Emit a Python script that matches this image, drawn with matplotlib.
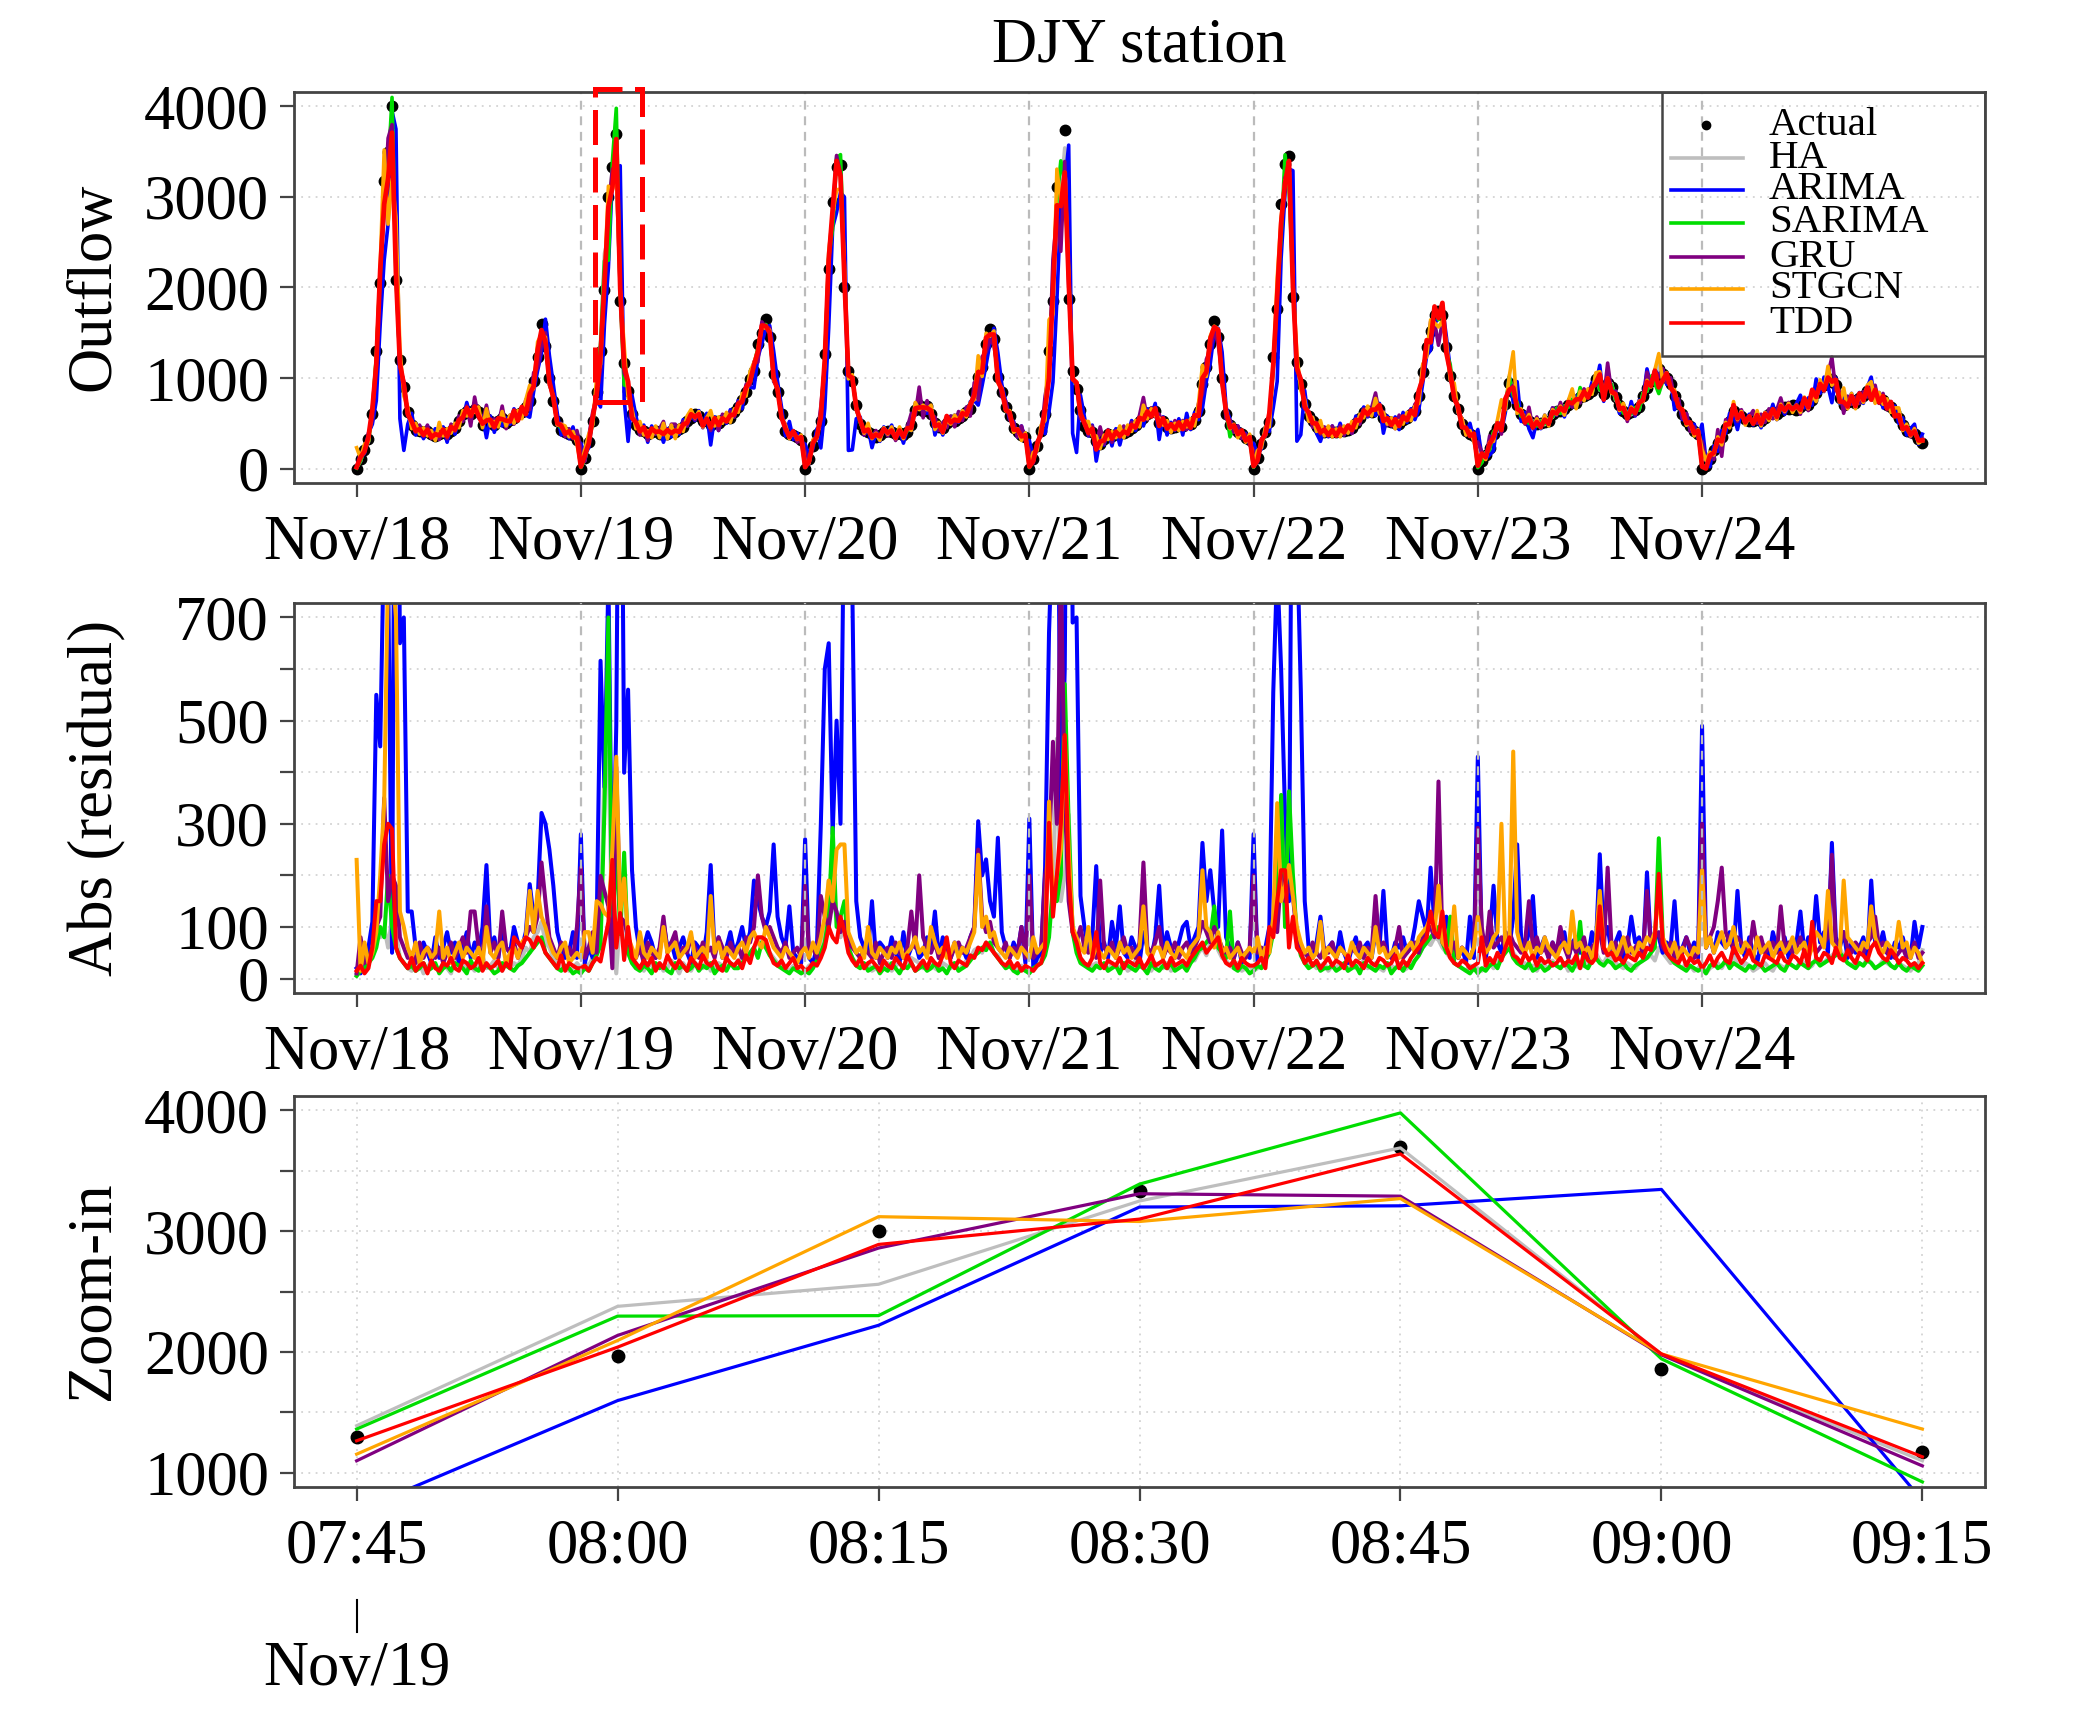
import numpy as np
import matplotlib
matplotlib.use('Agg')
import matplotlib.pyplot as plt
from matplotlib.patches import Rectangle
from matplotlib.lines import Line2D
from matplotlib.transforms import blended_transform_factory

plt.rcParams['font.family'] = ['Liberation Serif', 'DejaVu Serif']

# ---------------- data ----------------
day_labels = ['Nov/18', 'Nov/19', 'Nov/20', 'Nov/21', 'Nov/22', 'Nov/23', 'Nov/24']
slots_per_day = 57          # 15-min slots, 06:30 .. 20:30
zoom_labels = ['07:45', '08:00', '08:15', '08:30', '08:45', '09:00', '09:15']
zoom_day = 1                # Nov/19
zoom_first = 5              # slot of 07:45

actual_nov18 = [0, 100, 200, 330, 600, 1300, 2050, 3180, 3500, 4000,
                2080, 1200, 900, 620, 480, 430, 410, 400, 420, 380,
                360, 380, 400, 380, 420, 450, 520, 600, 640, 600,
                660, 620, 480, 560, 520, 480, 520, 560, 500, 540,
                560, 600, 620, 680, 750, 970, 1230, 1600, 1350, 1000,
                750, 520, 430, 400, 380, 370, 320]
actual_nov19 = [0, 120, 290, 530, 850, 1296, 1967, 3000, 3330, 3700,
                1856, 1166, 860, 600, 480, 430, 420, 380, 400, 420,
                380, 400, 380, 420, 400, 440, 460, 520, 560, 600,
                580, 520, 520, 480, 520, 500, 540, 560, 560, 620,
                680, 760, 850, 990, 1080, 1375, 1500, 1650, 1450, 1040,
                840, 600, 420, 380, 370, 350, 320]
actual_nov20 = [0, 100, 250, 380, 527, 1264, 2204, 2942, 3329, 3348,
                2000, 1080, 966, 700, 490, 430, 400, 380, 350, 370,
                400, 420, 400, 380, 390, 370, 400, 480, 650, 700,
                640, 690, 600, 500, 460, 450, 500, 540, 520, 560,
                580, 620, 660, 850, 1006, 1117, 1375, 1541, 1430, 1006,
                840, 675, 580, 450, 400, 370, 343]
actual_nov21 = [0, 100, 250, 420, 600, 1300, 1854, 3108, 3200, 3742,
                1873, 1080, 877, 650, 470, 420, 400, 300, 270, 330,
                380, 360, 380, 400, 390, 420, 450, 480, 520, 560,
                600, 620, 640, 500, 520, 460, 450, 460, 480, 470,
                500, 490, 540, 640, 930, 1117, 1375, 1633, 1450, 1000,
                600, 480, 440, 400, 380, 340, 320]
actual_nov22 = [0, 120, 270, 400, 510, 1227, 1762, 2923, 3366, 3458,
                1891, 1172, 933, 711, 580, 527, 460, 420, 400, 410,
                400, 398, 410, 420, 430, 450, 500, 560, 620, 640,
                620, 675, 660, 560, 530, 510, 500, 490, 540, 560,
                600, 640, 800, 1062, 1338, 1523, 1700, 1744, 1700, 1338,
                1025, 804, 656, 490, 420, 380, 361]
actual_nov23 = [0, 85, 150, 230, 380, 450, 460, 711, 950, 850,
                700, 600, 560, 527, 500, 490, 500, 510, 530, 600,
                640, 630, 660, 700, 750, 720, 785, 800, 820, 860,
                988, 900, 822, 950, 900, 785, 700, 640, 600, 620,
                650, 675, 800, 895, 970, 1000, 1100, 1043, 1000, 933,
                800, 711, 600, 527, 470, 420, 380]
actual_nov24 = [0, 30, 100, 200, 280, 350, 450, 520, 640, 600,
                580, 550, 520, 530, 560, 520, 560, 600, 620, 600,
                640, 680, 660, 700, 650, 680, 720, 700, 760, 830,
                900, 920, 960, 990, 920, 780, 700, 740, 760, 720,
                780, 800, 860, 820, 800, 780, 760, 700, 680, 620,
                560, 480, 420, 400, 380, 330, 280]

# prediction - actual, 57 values per day
res_ha = [
    10, -20, 30, -40, 60, -90, 80, -100, 60, -120, 90, -40, 30, -20, 15, -25, 30, -10, 20, -35,
    25, -15, 30, -20, 10, -40, 35, -30, 20, -25, 15, -30, 45, -20, 25, -35, 20, -15, 40, -20,
    30, -25, 40, -60, 50, -80, 90, -110, 70, -60, 40, -30, 20, -25, 15, -20, 30,
    20, -30, 25, -40, 60, 92, 410, -440, -80, -10, 124, -69, 50, -30, 20, -25, 15, -30, 25, -20,
    30, -15, 20, -35, 25, -10, 30, -20, 15, -30, 25, -20, 35, -15, 20, -30, 25, -20, 30, -25,
    35, -40, 45, -50, 60, -70, 80, -60, 50, -40, 30, -25, 20, -15, 25, -20, 10,
    15, -25, 30, -35, 50, -90, 190, -150, 120, -80, 100, -60, 40, -30, 25, -20, 30, -15, 20, -25,
    20, -30, 15, -25, 30, -20, 25, -40, 35, -30, 20, -25, 30, -20, 15, -30, 25, -20, 30, -15,
    25, -35, 40, -55, 60, -50, 70, -60, 50, -45, 30, -20, 25, -15, 20, -25, 15,
    20, -15, 30, -40, 55, -100, 160, -465, -150, -200, 318, -90, 60, -40, 30, -20, 25, -30, 20, -25,
    15, -30, 25, -20, 30, -15, 20, -35, 30, -25, 20, -15, 30, -25, 20, -30, 15, -20, 25, -30,
    30, -40, 35, -50, 60, -45, 70, -80, 55, -40, 35, -25, 20, -30, 15, -20, 25,
    15, -20, 25, -35, 60, -110, 180, -300, -280, -150, 200, -70, 50, -35, 25, -30, 20, -25, 30, -15,
    25, -20, 30, -25, 15, -30, 20, -25, 35, -20, 25, -30, 20, -15, 30, -25, 20, -30, 15, -20,
    30, -35, 45, -60, 70, -65, 80, -75, 60, -50, 40, -30, 25, -20, 15, -25, 20,
    20, -15, 25, -30, 20, -40, 35, -60, 80, -50, 40, -25, 30, -20, 25, -15, 30, -25, 20, -35,
    25, -20, 30, -15, 35, -25, 20, -30, 25, -40, 50, -35, 30, -45, 40, -30, 25, -20, 30, -25,
    20, -30, 35, -40, 45, -35, 60, -50, 40, -30, 35, -25, 20, -30, 25, -15, 20,
    30, -10, 20, -25, 30, -20, 35, -30, 45, -25, 20, -30, 25, -15, 20, -25, 30, -20, 15, -30,
    25, -20, 30, -25, 20, -35, 30, -20, 25, -40, 35, -30, 40, -45, 50, -60, 40, -30, 25, -35,
    30, -25, 40, -30, 20, -25, 35, -30, 25, -20, 30, -25, 20, -15, 25, -30, 55]
res_arima = [
    20, 10, -30, 60, -110, -550, -450, -880, -800, -50, 1670, -650, -700, -130, 130, -60, 40, -70, 50, -30,
    80, -40, 60, -90, 50, -70, 30, -60, 90, -40, 70, -50, 100, -220, 60, -80, 40, -90, 60, -50,
    100, -70, 60, -90, -183, -120, -150, -321, 300, 250, 180, 90, -60, 40, -50, 90, -40,
    280, 30, -60, 40, -90, -616, -371, -780, -130, -490, 1490, -399, -560, 210, 100, -50, 60, -90, 70, -40,
    50, -110, 60, -70, 40, -60, 80, -50, 30, -70, 60, -40, 90, -220, 50, -80, 40, -60, 90, -50,
    70, -100, 60, -90, -190, -150, -120, -100, 130, 260, 120, 80, -60, 140, -50, 40, -30,
    270, 40, -30, 60, -300, -600, -650, -280, -500, -300, 1000, -880, -760, -150, 80, -60, 50, -150, 40, -70,
    60, -40, 80, -50, 30, -90, 40, -60, 70, -40, 50, -80, 60, -130, 40, -80, 60, -40, 70, -50,
    60, -40, 80, -100, -305, -200, -231, -150, 120, 273, 90, 60, -40, 70, -50, 100, -30,
    310, 20, -40, 50, -215, -670, -900, -1250, -300, -600, 1700, -690, -700, 160, 100, -60, 80, -218, 50, -70,
    40, -110, 60, -140, 50, -40, 80, -60, 30, -90, 60, -40, 80, -180, 50, -90, 60, -40, 70, -100,
    110, -60, 80, -100, -263, -150, -210, -130, 100, 287, 80, 60, -40, 70, -30, 50, -40,
    280, 30, -50, 60, -100, -555, -800, -600, -318, -150, 1400, -870, -560, 150, -60, 40, -70, -120, 50, -60,
    70, -40, 90, -50, 30, -60, 80, -40, 60, -70, 40, -90, 60, -170, 50, -40, 70, -60, 80, -50,
    60, -100, -150, -120, -90, -215, -100, -80, 90, 120, 70, 50, -40, 60, -30, 120, -40,
    430, 60, -40, -80, -180, 70, -50, -90, 60, -120, 260, -80, 60, -90, -160, 40, -60, 80, -40, 70,
    -50, 60, -90, 40, -70, 80, -50, 60, -40, 90, -60, 241, -80, 100, -50, 70, -90, 40, -60, 120,
    -70, 80, -40, 206, -60, 90, -80, 50, -70, 60, -150, 40, -60, 80, -50, 70, -40,
    490, 60, -80, 50, -90, 70, -60, 90, -50, -170, 60, -40, 80, -50, 30, -70, 60, -40, 90, -60,
    50, -80, 40, -60, 70, 130, -50, 80, -60, 160, -70, 90, -50, -263, 80, -60, 90, -40, 70, -50,
    60, -80, 40, 190, -70, 60, -90, 50, -40, 70, -60, 80, -50, 40, 110, -60, 100]
res_sarima = [
    5, -15, 20, -30, 40, -60, 100, -80, -200, 100, 60, -40, 30, -20, 25, -15, 20, -30, 15, -20,
    30, -10, 20, -25, 15, -30, 25, -20, 10, -35, 20, -15, 30, -25, 20, -10, 15, -30, 25, -20,
    15, -25, 30, -40, 50, -60, 70, -80, 50, -40, 30, -20, 15, -25, 20, -10, 15,
    10, -20, 15, -30, 45, 64, 329, -700, 60, 280, 86, -244, 50, -30, 20, -15, 25, -20, 10, -30,
    20, -25, 15, -10, 30, -20, 25, -15, 20, -30, 15, -25, 20, -30, 10, -20, 25, -15, 30, -20,
    20, -30, 40, -50, 60, -40, 70, -60, 45, -35, 25, -20, 15, -10, 20, -15, 10,
    15, -10, 20, -35, 50, -70, 120, -292, 100, 120, 150, -60, 40, -25, 20, -30, 15, -20, 25, -10,
    20, -15, 30, -20, 10, -25, 20, -30, 15, -20, 25, -15, 20, -30, 15, -20, 10, -25, 30, -15,
    20, -25, 35, -45, 50, -60, 55, -70, 50, -40, 30, -20, 25, -15, 10, -20, 15,
    10, -20, 25, -30, 45, -80, 180, -150, 200, -571, 300, -90, 50, -30, 25, -20, 15, -25, 20, -30,
    15, -20, 25, -10, 30, -25, 20, -15, 25, -20, 10, -30, 20, -15, 25, -20, 30, -15, 20, -25,
    15, -30, 40, -55, 60, -70, 80, -140, 60, -50, 40, -130, 20, -15, 25, -20, 10,
    15, -25, 20, -35, 50, -90, 150, -356, 100, -363, 200, -80, 45, -30, 20, -25, 30, -15, 20, -20,
    25, -15, 20, -30, 15, -20, 25, -10, 30, -25, 20, -15, 25, -20, 30, -10, 20, -25, 15, -30,
    20, -35, 45, -60, 70, -80, 90, -100, 70, -50, 120, -30, 25, -20, 15, -10, 20,
    10, -20, 15, -25, 30, -20, 40, -50, 60, -40, 30, -25, 20, -30, 15, -20, 25, -15, 20, -30,
    25, -20, 30, -25, 15, -30, 110, -25, 20, -35, 40, -30, 25, -35, 30, -20, 25, -30, 20, -15,
    25, -30, 35, -40, 50, -60, -272, -80, 50, -40, 30, -25, 20, -15, 25, -20, 15,
    20, -10, 25, -30, 20, -25, 35, -20, 30, -25, 20, -15, 25, -20, 30, -25, 15, -20, 25, -30,
    20, -15, 30, -25, 20, -30, 25, -20, 30, -35, 25, -30, 35, -40, 45, -50, 40, -30, 25, -20,
    30, -25, 35, -30, 20, -25, 30, -35, 25, -20, 30, -20, 15, -25, 20, -15, 25]
res_gru = [
    10, 80, -30, 40, -60, -100, 120, -350, 150, -200, 180, -80, 60, -40, 50, -30, 70, -40, 60, -50,
    40, -60, 30, -50, 70, -40, 60, -80, 50, -130, 130, -60, 40, 140, -50, 70, -40, 130, -60, 50,
    -70, 40, -60, 80, -100, 90, -120, -225, 150, -80, 60, -40, 70, -50, 60, -40, 100,
    215, -40, 60, 90, -50, -199, 169, -140, -20, -410, 119, -111, 80, -50, 40, -60, 30, -70, 50, -40,
    60, 120, -50, 70, 90, -40, 60, -50, 80, -60, 40, -70, 50, -60, 40, -80, 60, -40, 70, -50,
    60, -40, 80, -70, 100, -200, 120, -90, 100, -80, 60, -50, 70, -40, 50, -60, 40,
    180, -50, 60, -40, 160, -120, 100, -150, 130, -90, 110, -70, 60, -50, 40, -60, 50, -40, 70, -30,
    50, -60, 40, -70, 50, -40, 60, 130, -60, 200, -80, 60, -50, 70, -40, 60, -50, 40, -60, 70,
    -50, 60, -80, 100, -250, 120, -90, -110, -70, 60, -50, 70, -40, 60, -50, 100, -40,
    200, -40, 50, -60, 200, -240, 459, -300, -800, -350, 150, -90, 70, -100, 60, -50, 70, -40, 190, -60,
    50, -70, 40, -60, 80, -50, 60, -40, 70, 225, -60, 50, -70, 100, -40, 60, -50, 70, -40, 60,
    -70, 50, -60, 80, -110, 90, -70, -100, -80, 60, -50, 60, -40, 70, -50, 40, -60,
    200, -50, 60, -40, 70, -110, 90, -200, -150, -180, 160, -80, 60, -50, 40, -70, 50, -40, 60, -50,
    70, -40, 60, -50, 40, -60, 50, -70, 40, -60, 50, 160, -60, 70, -50, 40, -60, 100, -40, 50,
    -60, 70, -50, 80, -90, 100, -80, -382, -70, 60, -50, 70, -40, 60, -50, 40, -60,
    292, 100, -50, 130, -60, 70, -80, 60, -90, 70, -60, 50, -70, 150, -60, 80, -50, 60, -40, 70,
    -50, 100, -60, 40, -70, 50, -60, 80, -40, 60, -70, 90, -50, 215, -60, 70, -40, 60, -80, 50,
    -60, 70, -50, 170, -60, 80, -90, 60, -50, 70, -40, 60, -50, 80, -60, 40, -50,
    300, 60, 80, -100, 150, -215, 90, -70, 60, -80, 70, -60, 50, 110, -60, 80, -50, 60, -70, 50,
    140, -60, 70, -50, 60, -80, 50, -60, 70, -50, 60, -70, 80, 240, -60, 70, -90, 60, -50, 70,
    -60, 50, -70, 80, 120, -60, 70, -50, 60, -40, 50, -60, 40, -50, 70, -40, 50]
res_stgcn = [
    230, 15, 70, -30, 50, -90, 200, 340, -800, -800, 700, 130, -100, 60, -40, 70, -30, 50, -60, 40,
    -50, 130, -40, 60, -30, 50, -70, 40, -60, 50, -40, 60, -30, 100, -50, 40, -60, 70, -30, 50,
    -60, 40, -70, 80, 170, -90, 170, -120, 100, -70, 50, -40, 60, 70, -30, 40, -50,
    40, 90, 90, -50, 150, -144, 127, 120, -250, -430, 127, 194, -80, 60, -40, 90, -50, 40, -60, 50,
    -40, 100, -50, 60, -70, 40, -50, 60, 90, -40, 50, -60, 40, 160, -50, 70, -40, 60, -50, 40,
    -60, 70, -50, 80, 90, -70, 60, -100, 80, -60, 50, -40, 60, -50, 40, -30, 50,
    60, -40, 70, -50, 80, -120, 190, -150, -250, -260, 260, -90, 70, -50, 60, -40, 100, -50, 40, -60,
    50, -40, 60, -50, 70, -40, 50, -60, 80, -50, 60, -40, 100, -70, 50, -60, 40, -50, 70, -40,
    60, -50, 70, -90, 240, -100, 120, -80, 90, -60, 50, -40, 60, -50, 40, -60, 50,
    40, 80, -50, 60, -70, 343, -150, 200, -250, -470, 250, -100, 80, -60, 50, 100, -40, 60, -50, 40,
    -60, 50, -40, 70, -50, 60, -40, 50, -60, 140, -50, 40, -60, 60, -40, 70, -50, 40, -60, 50,
    -40, 60, -70, 80, 210, -100, 90, -60, 90, -50, 60, -40, 50, -60, 40, -50, 60,
    50, 80, -40, 60, -50, -120, 340, -150, -180, -220, 160, 100, -70, 50, -60, 40, -50, 110, -40, 60,
    -50, 40, -60, 50, -40, 70, -50, 40, -60, 50, -40, 100, -50, 60, -40, 50, -60, 40, -50, 60,
    -70, 50, -80, 90, -100, 120, -90, -180, -70, 60, -50, 140, -40, 60, -50, 40, -60,
    120, 70, -50, 60, -80, 90, 300, -60, 70, 440, -90, 60, -50, 70, -40, 60, -50, 80, -60, 50,
    -40, 60, -70, 50, 130, -60, 70, -50, 60, -40, 70, 170, -60, 50, -70, 40, -60, 80, -50, 60,
    -40, 70, -60, 80, -70, 90, 170, -80, 60, -50, 70, -40, 60, -50, 40, -60, 50,
    210, 60, 80, -50, 70, -90, 60, -70, 100, -60, 50, -70, 60, -40, 80, -50, 60, -70, 40, -60,
    70, -50, 60, -80, 50, -60, 70, -40, 60, -90, 80, -60, 170, -70, 60, -50, 190, -80, 70, -60,
    50, -70, 60, 140, -80, 60, -50, 70, -60, 50, 110, -60, 70, -40, 60, -50, 30]
res_tdd = [
    15, 25, -10, 20, 60, -150, 150, -260, -300, -290, 60, -40, 30, -20, 40, -15, 25, -30, 10, -35,
    20, -15, 30, -25, 40, -20, 15, -35, 30, -20, 25, -40, 15, -30, 20, -25, 35, -15, 30, -20,
    80, -70, 60, -80, 75, -60, 80, -70, 50, -40, 30, -20, 45, -15, 30, -25, 20,
    20, 25, -15, 30, -40, -33, 72, -110, -230, -60, 127, -36, 100, -40, 30, -20, 35, -25, 40, -15,
    30, -20, 45, -30, 20, -35, 25, -15, 40, -30, 20, -45, 30, -25, 35, -20, 15, -40, 30, -25,
    35, -20, 45, -30, 60, -80, 80, -75, 50, -30, 25, -35, 20, -30, 40, -20, 25,
    15, -20, 30, -25, 40, -60, 100, -80, 70, -120, 90, -50, 35, -25, 40, -20, 30, -35, 25, -15,
    35, -25, 20, -40, 30, -20, 45, -30, 15, -25, 35, -20, 40, -30, 25, -45, 80, -30, 20, -35,
    30, -25, 45, -40, 60, -55, 70, -60, 50, -40, 30, -25, 35, -20, 30, -15, 25,
    20, -15, 25, -30, 60, -302, 120, -200, -300, -472, 200, -90, 70, -40, 30, -25, 40, -90, 30, -20,
    35, -30, 25, -40, 20, -35, 30, -25, 40, -20, 30, -45, 25, -30, 35, -20, 40, -25, 30, -35,
    25, -40, 50, -60, 70, -50, 60, -70, 80, -45, 30, -25, 35, -20, 40, -30, 25,
    25, -30, 40, -20, 100, -80, 150, -210, -210, -60, 120, -60, 50, -30, 40, -25, 35, -20, 30, -40,
    25, -35, 30, -20, 45, -25, 35, -30, 20, -40, 30, -25, 40, -35, 25, -30, 45, -20, 35, -25,
    40, -50, 60, -70, 80, -130, 90, -80, 130, -60, 40, -30, 25, -35, 30, -20, 25,
    30, 80, -25, 40, -30, 50, -35, 60, -80, 45, -40, 30, -50, 35, -45, 25, -40, 30, -35, 25,
    -30, 40, -25, 35, -30, 45, -20, 50, -35, 30, -40, 140, -60, 45, -50, 35, -40, 30, -45, 40,
    -35, 50, -40, 60, -55, 80, -203, -70, 50, -40, 35, -30, 45, -25, 40, -30, 35,
    20, -30, 45, -25, 40, -50, 35, -30, 60, -45, 30, -40, 55, -35, 30, -25, 45, -40, 35, -30,
    50, -35, 30, -45, 40, -30, 55, -25, 110, -40, 35, -50, 45, -30, 60, -40, 35, -55, 40, -30,
    50, -45, 35, -60, 70, -50, 40, -35, 55, -45, 30, -40, 35, -25, 30, -20, 30]

model_names = ['HA', 'ARIMA', 'SARIMA', 'GRU', 'STGCN', 'TDD']
model_colors = ['#BEBEBE', '#0000FF', '#00DD00', '#800080', '#FFA500', '#FF0000']

actual = np.array(actual_nov18 + actual_nov19 + actual_nov20 + actual_nov21 +
                  actual_nov22 + actual_nov23 + actual_nov24, dtype=float)
residuals = [np.array(r, dtype=float) for r in
             [res_ha, res_arima, res_sarima, res_gru, res_stgcn, res_tdd]]
preds = [actual + r for r in residuals]
x = np.arange(len(actual))
day_ticks = np.arange(len(day_labels)) * slots_per_day

# ---------------- figure ----------------
W, H = 2079, 1710
fig = plt.figure(figsize=(W / 100, H / 100), dpi=100)

def px_axes(left, right, top, bottom):
    return fig.add_axes([left / W, 1 - bottom / H, (right - left) / W, (bottom - top) / H])

ax1 = px_axes(294, 1985, 92, 483)
ax2 = px_axes(294, 1985, 603, 993)
ax3 = px_axes(294, 1985, 1096, 1487)

FS = 45
frame_c = '#444444'

def style(ax):
    for s in ax.spines.values():
        s.set_color(frame_c)
        s.set_linewidth(2.0)
    ax.tick_params(direction='out', length=10, width=1.6, color=frame_c,
                   labelsize=FS, pad=8)
    ax.tick_params(axis='x', pad=13)

xlim = (-0.04 * x[-1], x[-1] * 1.04)

# ---- top: outflow ----
for yv in [0, 1000, 2000, 3000, 4000]:
    ax1.axhline(yv, color='#D3D3D3', lw=1.3, ls=(0, (1, 3)), zorder=0)
for d in day_ticks[1:]:
    ax1.axvline(d, color='#BBBBBB', lw=1.6, ls=(0, (4, 3)), zorder=0.5)
ax1.plot(x, actual, 'o', color='black', ms=7.5, zorder=1)
for p, c in zip(preds, model_colors):
    ax1.plot(x, p, color=c, lw=3.4 if c == '#FF0000' else 2.6, zorder=2)
ax1.set_xlim(*xlim)
ax1.set_ylim(-160, 4160)
ax1.set_yticks([0, 1000, 2000, 3000, 4000])
ax1.set_xticks(day_ticks)
ax1.set_xticklabels(day_labels)
ax1.set_title('DJY station', fontsize=FS, pad=22)
style(ax1)

# dashed zoom box on Nov/19 morning
ax1.add_patch(Rectangle((60.6, 730), 11.9, 3465, fill=False, ec='#FF0000', lw=3.6,
                        ls=(0, (7, 2.5)), clip_on=False, zorder=5))

# legend drawn by hand for the tight R-style rows
leg_y = [0.9156, 0.8312, 0.7494, 0.6650, 0.5780, 0.4962, 0.4092]
ax1.add_patch(Rectangle((0.809, 0.325), 0.191, 0.675, transform=ax1.transAxes,
                        fill=False, ec=frame_c, lw=1.8, zorder=6))
ax1.plot([0.8351], [leg_y[0]], 'o', color='black', ms=6, transform=ax1.transAxes, zorder=7)
ax1.text(0.8723, leg_y[0], 'Actual', transform=ax1.transAxes, fontsize=29.5,
         va='center', ha='left', zorder=7)
for yy, name, c in zip(leg_y[1:], model_names, model_colors):
    ax1.add_line(Line2D([0.8143, 0.8569], [yy, yy], color=c, lw=2.6,
                        transform=ax1.transAxes, zorder=7))
    ax1.text(0.8723, yy, name, transform=ax1.transAxes, fontsize=29.5,
             va='center', ha='left', zorder=7)

# ---- middle: abs residual ----
for yv in range(0, 800, 100):
    ax2.axhline(yv, color='#D3D3D3', lw=1.3, ls=(0, (1, 3)), zorder=0)
for r, c in zip(residuals, model_colors):
    ax2.plot(x, np.abs(r), color=c, lw=2.9, zorder=2)
for d in day_ticks[1:]:
    ax2.axvline(d, color='#BBBBBB', lw=1.6, ls=(0, (4, 3)), zorder=3)
ax2.set_xlim(*xlim)
ax2.set_ylim(-28, 728)
ax2.set_yticks(range(0, 800, 100))
ax2.set_yticklabels(['0', '100', '', '300', '', '500', '', '700'])
ax2.set_xticks(day_ticks)
ax2.set_xticklabels(day_labels)
style(ax2)

# ---- bottom: zoom-in ----
i0 = zoom_day * slots_per_day + zoom_first
zx = np.arange(len(zoom_labels))
sl = slice(i0, i0 + len(zoom_labels))
for yv in range(1000, 4500, 500):
    ax3.axhline(yv, color='#D3D3D3', lw=1.3, ls=(0, (1, 3)), zorder=0)
for xv in zx:
    ax3.axvline(xv, color='#D3D3D3', lw=1.3, ls=(0, (1, 3)), zorder=0)
ax3.plot(zx, actual[sl], 'o', color='black', ms=9, zorder=1)
for p, c in zip(preds, model_colors):
    ax3.plot(zx, p[sl], color=c, lw=2.3, zorder=2)
ax3.set_xlim(-0.24, 6.24)
ax3.set_ylim(880, 4120)
ax3.set_yticks(range(1000, 4500, 500))
ax3.set_yticklabels(['1000', '', '2000', '', '3000', '', '4000'])
ax3.set_xticks(zx)
ax3.set_xticklabels(zoom_labels)
style(ax3)
tr = blended_transform_factory(ax3.transData, ax3.transAxes)
ax3.plot([0, 0], [-0.29, -0.37], color='black', lw=1.5, transform=tr, clip_on=False)
ax3.text(0, -0.468, day_labels[zoom_day], transform=tr, fontsize=FS,
         ha='center', va='center')

# y labels
fig.text(94 / W, 1 - 287 / H, 'Outflow', rotation=90, fontsize=FS, ha='center', va='center')
fig.text(97 / W, 1 - 798 / H, 'Abs (residual)', rotation=90, fontsize=FS, ha='center', va='center')
fig.text(94 / W, 1 - 1291 / H, 'Zoom-in', rotation=90, fontsize=FS, ha='center', va='center')

fig.savefig('out.png', dpi=100)
